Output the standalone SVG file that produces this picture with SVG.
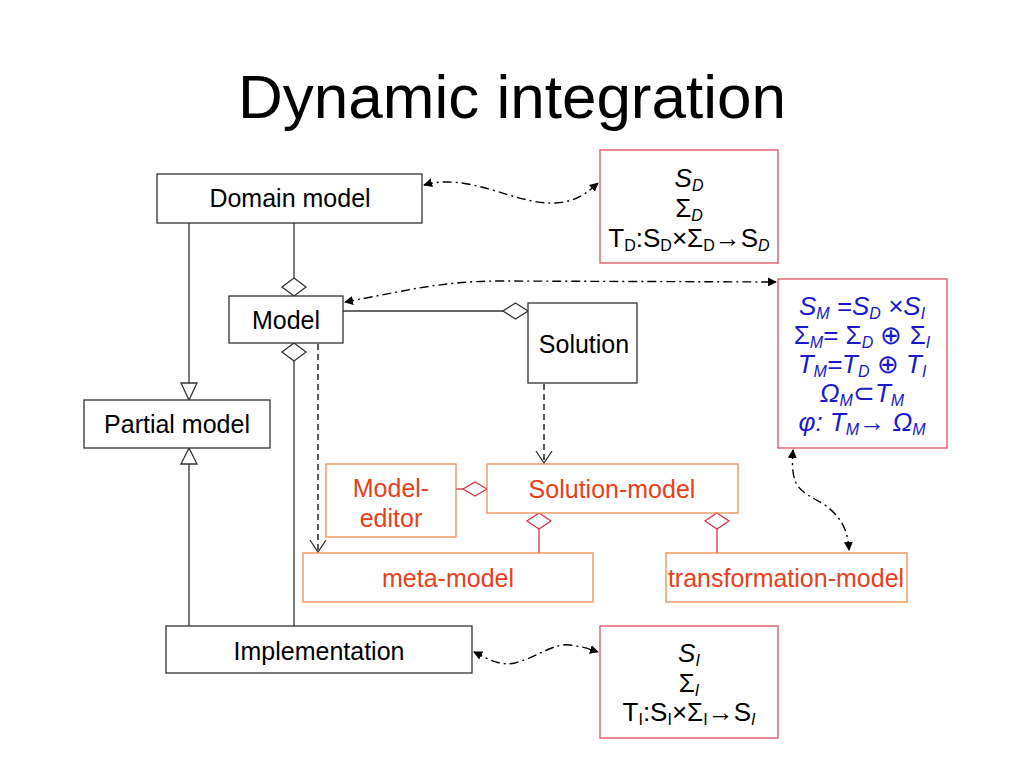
<svg xmlns="http://www.w3.org/2000/svg" width="1024" height="768" viewBox="0 0 1024 768">
<style>
text{font-family:"Liberation Sans",Arial,sans-serif;}
.title{font-size:62px;fill:#000;text-anchor:middle;}
.lbl{font-size:25px;fill:#000;text-anchor:middle;}
.olbl{font-size:25px;fill:#e8401a;text-anchor:middle;}
.box{fill:#fff;stroke:#333;stroke-width:1.3;}
.obox{fill:#fff;stroke:#f08c50;stroke-width:1.3;}
.rbox{fill:#fff;stroke:#e05060;stroke-width:1.3;}
.math{font-size:26px;fill:#000;text-anchor:middle;}
.bmath{font-size:26px;fill:#1a1acc;text-anchor:middle;}
.sub{font-size:16px;}
.it{font-style:italic;}
.ln{fill:none;stroke:#333;stroke-width:1.3;}
.hol{fill:#fff;stroke:#333;stroke-width:1.3;}
.rln{fill:none;stroke:#d8304a;stroke-width:1.3;}
.rhol{fill:#fff;stroke:#d8304a;stroke-width:1.3;}
.dash{fill:none;stroke:#000;stroke-width:1.3;stroke-dasharray:6 4;}
.dd{fill:none;stroke:#000;stroke-width:1.4;stroke-dasharray:9 4 2 4;marker-start:url(#ah);marker-end:url(#ah);}
</style>
<defs>
<marker id="ah" viewBox="0 0 10 10" refX="9" refY="5" markerWidth="9" markerHeight="9" markerUnits="userSpaceOnUse" orient="auto-start-reverse">
<path d="M0,0 L10,5 L0,10 z" fill="#000"/>
</marker>
</defs>
<rect width="1024" height="768" fill="#fff"/>
<text class="title" x="512" y="118">Dynamic integration</text>

<g id="connectors">
<line class="ln" x1="189" y1="223" x2="189" y2="383"/>
<polygon class="hol" points="181,383 197,383 189,400"/>
<line class="ln" x1="294" y1="223" x2="294" y2="278"/>
<polygon class="hol" points="294,278 306,287 294,296 282,287"/>
<line class="ln" x1="189" y1="626" x2="189" y2="464"/>
<polygon class="hol" points="189,448 181,464 197,464"/>
<line class="ln" x1="294" y1="626" x2="294" y2="361"/>
<polygon class="hol" points="294,343 306,352 294,361 282,352"/>
<line class="ln" x1="343" y1="311" x2="503" y2="311"/>
<polygon class="hol" points="528,311 515.5,303 503,311 515.5,319"/>
<line class="dash" x1="318" y1="344" x2="318" y2="551"/>
<polyline class="ln" points="310,540 318,552 326,540"/>
<line class="dash" x1="544" y1="384" x2="544" y2="462"/>
<polyline class="ln" points="536,451 544,463 552,451"/>
<line class="rln" x1="456" y1="489" x2="463" y2="489"/>
<polygon class="rhol" points="487,489 475,482 463,489 475,496"/>
<line class="rln" x1="539" y1="529" x2="539" y2="553"/>
<polygon class="rhol" points="539,513 551,521 539,529 527,521"/>
<line class="rln" x1="717" y1="529" x2="717" y2="553"/>
<polygon class="rhol" points="717,513 729,521 717,529 705,521"/>
<path class="dd" d="M424,185 C470,172 515,205 555,203 C578,202 590,190 598,183"/>
<path class="dd" d="M345,302 C400,292 440,281 500,281 L776,282"/>
<path class="dd" d="M474,652 C490,660 500,666 515,663 C540,656 553,643 570,645 C585,647 592,650 598,652"/>
<path class="dd" d="M793,450 C790,490 800,490 825,505 C845,520 848,535 849,550"/>
</g>

<g id="domain-model">
<rect class="box" x="157" y="174" width="265" height="49"/>
<text class="lbl" x="290" y="207">Domain model</text>
</g>
<g id="model">
<rect class="box" x="229" y="296" width="114" height="47"/>
<text class="lbl" x="286" y="329">Model</text>
</g>
<g id="solution">
<rect class="box" x="528" y="303" width="109" height="80"/>
<text class="lbl" x="584" y="353">Solution</text>
</g>
<g id="partial-model">
<rect class="box" x="84" y="400" width="186" height="48"/>
<text class="lbl" x="177" y="433">Partial model</text>
</g>
<g id="implementation">
<rect class="box" x="166" y="626" width="306" height="47"/>
<text class="lbl" x="319" y="660">Implementation</text>
</g>
<g id="model-editor">
<rect class="obox" x="326" y="464" width="130" height="73"/>
<text class="olbl" x="391" y="497">Model-</text>
<text class="olbl" x="391" y="527">editor</text>
</g>
<g id="solution-model">
<rect class="obox" x="487" y="464" width="251" height="49"/>
<text class="olbl" x="612" y="498">Solution-model</text>
</g>
<g id="meta-model">
<rect class="obox" x="303" y="553" width="290" height="49"/>
<text class="olbl" x="448" y="587">meta-model</text>
</g>
<g id="transformation-model">
<rect class="obox" x="666" y="553" width="241" height="49"/>
<text class="olbl" x="786" y="587">transformation-model</text>
</g>

<g id="sd-box">
<rect class="rbox" x="600" y="150" width="178" height="113"/>
<text class="math" x="689" y="187"><tspan class="it">S</tspan><tspan class="sub it" dy="4">D</tspan></text>
<text class="math" x="689" y="217">Σ<tspan class="sub it" dy="4">D</tspan></text>
<text class="math" x="689" y="247">T<tspan class="sub" dy="4">D</tspan><tspan dy="-4">:S</tspan><tspan class="sub" dy="4">D</tspan><tspan dy="-4">×Σ</tspan><tspan class="sub" dy="4">D</tspan><tspan dy="-4">→S</tspan><tspan class="sub it" dy="4">D</tspan></text>
</g>
<g id="sm-box">
<rect class="rbox" x="778" y="279" width="169" height="169"/>
<text class="bmath it" x="862" y="315">S<tspan class="sub" dy="4">M</tspan><tspan dy="-4"> =S</tspan><tspan class="sub" dy="4">D</tspan><tspan dy="-4"> ×S</tspan><tspan class="sub" dy="4">I</tspan></text>
<text class="bmath" x="862" y="344">Σ<tspan class="sub it" dy="4">M</tspan><tspan dy="-4">= Σ</tspan><tspan class="sub it" dy="4">D</tspan><tspan dy="-4"> ⊕ Σ</tspan><tspan class="sub it" dy="4">I</tspan></text>
<text class="bmath it" x="862" y="373">T<tspan class="sub" dy="4">M</tspan><tspan dy="-4">=T</tspan><tspan class="sub" dy="4">D</tspan><tspan dy="-4" font-style="normal"> ⊕ </tspan><tspan>T</tspan><tspan class="sub" dy="4">I</tspan></text>
<text class="bmath it" x="862" y="402">Ω<tspan class="sub" dy="4">M</tspan><tspan dy="-4" font-style="normal">⊂</tspan><tspan>T</tspan><tspan class="sub" dy="4">M</tspan></text>
<text class="bmath it" x="862" y="431">φ: T<tspan class="sub" dy="4">M</tspan><tspan dy="-4" font-style="normal">→ </tspan><tspan>Ω</tspan><tspan class="sub" dy="4">M</tspan></text>
</g>
<g id="si-box">
<rect class="rbox" x="600" y="626" width="178" height="112"/>
<text class="math" x="689" y="662"><tspan class="it">S</tspan><tspan class="sub it" dy="4">I</tspan></text>
<text class="math" x="689" y="692">Σ<tspan class="sub it" dy="4">I</tspan></text>
<text class="math" x="689" y="721">T<tspan class="sub" dy="4">I</tspan><tspan dy="-4">:S</tspan><tspan class="sub" dy="4">I</tspan><tspan dy="-4">×Σ</tspan><tspan class="sub" dy="4">I</tspan><tspan dy="-4">→S</tspan><tspan class="sub it" dy="4">I</tspan></text>
</g>
</svg>
